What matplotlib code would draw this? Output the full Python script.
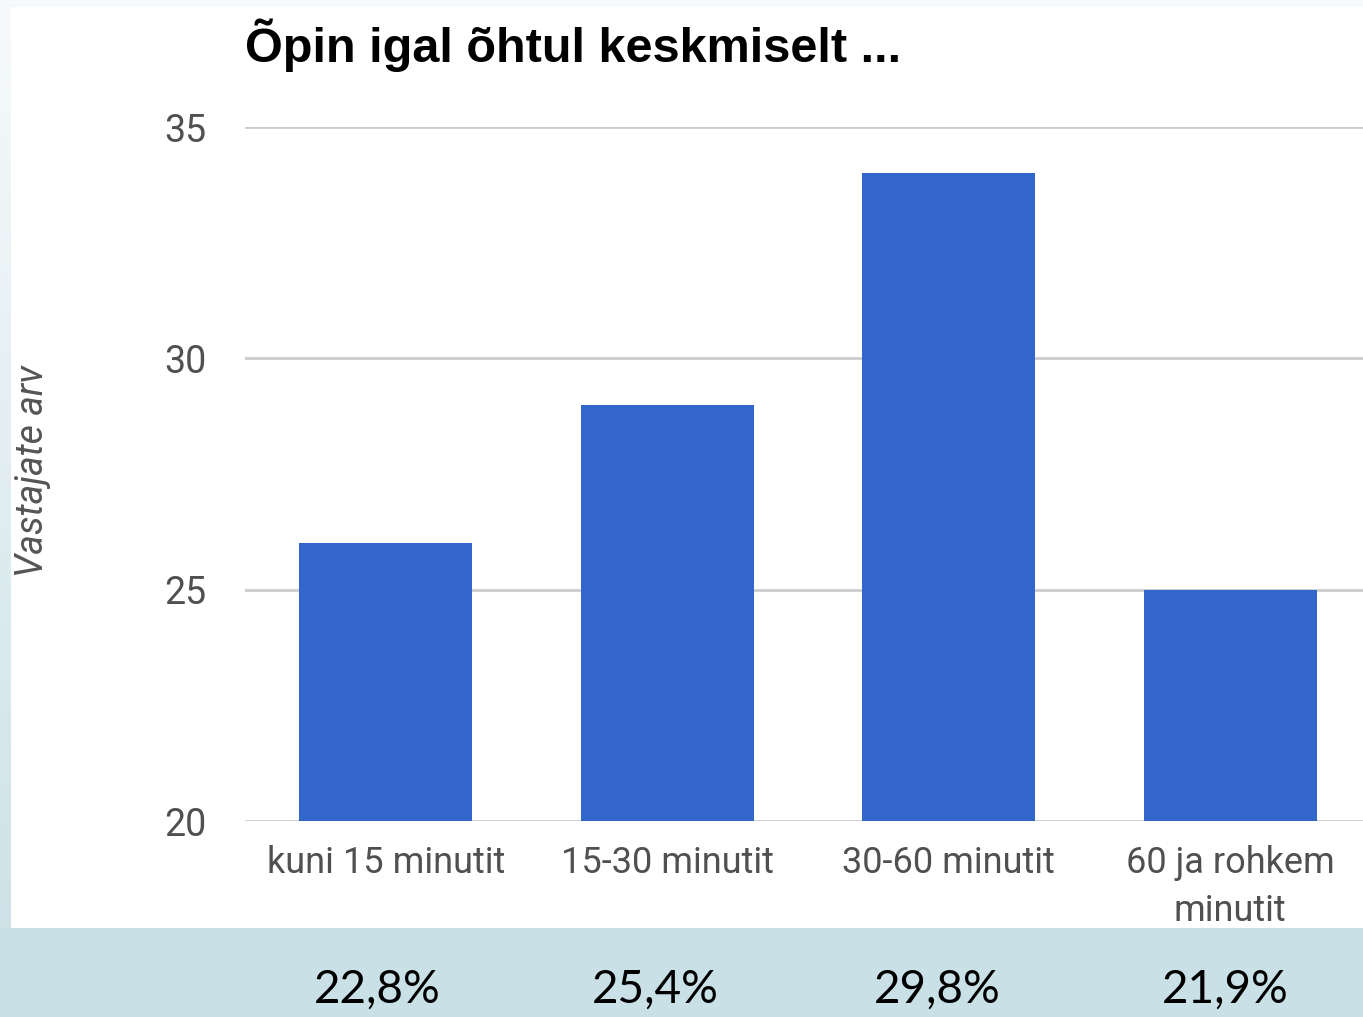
import numpy as np
import matplotlib.pyplot as plt
from matplotlib.patches import Rectangle

# data
kategooriad = ["kuni 15 minutit", "15-30 minutit", "30-60 minutit", "60 ja rohkem\nminutit"]
vastajad = [26, 29, 34, 25]
protsendid = ["22,8%", "25,4%", "29,8%", "21,9%"]
y_ticks = [20, 25, 30, 35]

W, H = 1363, 1017
fig = plt.figure(figsize=(W / 100, H / 100), dpi=100)
fig.patch.set_facecolor("#c9e0e6")

# background: gradient strip at left, white panel, bottom band
grad = fig.add_axes([0, 0, 1, 1], zorder=-10)
grad.imshow(np.linspace(0, 1, 256).reshape(-1, 1),
            cmap=plt.matplotlib.colors.LinearSegmentedColormap.from_list("g", ["#f7fafb", "#c9e0e6"]),
            aspect="auto", extent=[0, 1, 0, 1], origin="upper")
grad.axis("off")
fig.patches.append(Rectangle((11 / W, (H - 928) / H), 1 - 11 / W, (928 - 7) / H,
                             transform=fig.transFigure, facecolor="white", edgecolor="none", zorder=-5))
fig.patches.append(Rectangle((0, 0), 1, (H - 928) / H,
                             transform=fig.transFigure, facecolor="#c9e0e6", edgecolor="none", zorder=-5))

# chart
ax = fig.add_axes([245 / W, (H - 821) / H, (1371 - 245) / W, (821 - 127) / H])
ax.patch.set_alpha(0)
x = np.arange(len(kategooriad))
ax.bar(x, vastajad, width=0.615, color="#3366cc", zorder=3)
ax.set_xlim(-0.5, len(kategooriad) - 0.5)
ax.set_ylim(20, 35)
ax.set_yticks(y_ticks)
ax.grid(axis="y", color="#cccccc", linewidth=2)
ax.set_axisbelow(True)
for spine in ax.spines.values():
    spine.set_visible(False)
ax.tick_params(length=0)
ax.set_xticks(x)
ax.set_xticklabels(kategooriad, fontsize=26, color="#505050", family="Roboto", linespacing=1.45)
ax.tick_params(axis="x", pad=17)
ax.tick_params(axis="y", pad=28, labelsize=27, labelcolor="#505050")
for lbl in ax.get_yticklabels():
    lbl.set_family("Roboto")

fig.text(245 / W, 1 - 45 / H, "Õpin igal õhtul keskmiselt ...", fontsize=35, fontweight="bold",
         family="Liberation Sans", va="center", ha="left")
fig.text(33 / W, 1 - 471 / H, "Vastajate arv", rotation=90, fontsize=27, fontstyle="italic",
         color="#555555", family="Roboto", va="center", ha="center")

# percentages in bottom band
for cx, p in zip([377, 655, 937, 1225], protsendid):
    fig.text(cx / W, 1 - 990 / H, p, fontsize=33, family="Lato",
             color="black", va="center", ha="center")

fig.savefig("out.png", dpi=100)
